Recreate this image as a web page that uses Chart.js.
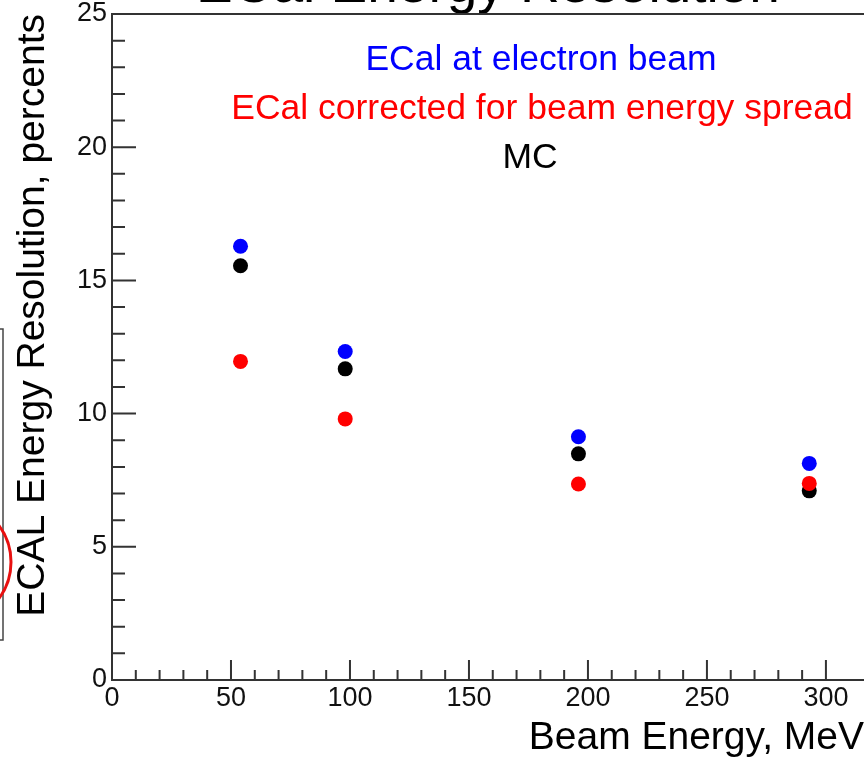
<!DOCTYPE html>
<html>
<head>
<meta charset="utf-8">
<title>ECal Energy Resolution</title>
<script src="https://cdn.jsdelivr.net/npm/chart.js@4.4.1/dist/chart.umd.min.js"></script>
<style>
  html, body { margin: 0; padding: 0; background: #fff; overflow: hidden; width: 864px; height: 762px; }
  #wrap { position: absolute; left: 0; top: -44px; width: 880px; height: 806px; }
</style>
</head>
<body>
<div id="wrap"><canvas id="resChart"></canvas></div>
<script>
// beam energies (MeV) and resolution values (percents)
const beamEnergy = [54, 98, 196, 293];
const electronBeam = [16.28, 12.33, 9.13, 8.13];
const correctedSpread = [11.96, 9.80, 7.36, 7.38];
const monteCarlo = [15.55, 11.68, 8.49, 7.10];

const seriesNames = ['ECal at electron beam', 'ECal corrected for beam energy spread', 'MC'];
const seriesColors = ['#0000ff', '#ff0000', '#000000'];

const xTickLabels = [0, 50, 100, 150, 200, 250, 300];
const yTickLabels = [0, 5, 10, 15, 20, 25];

Chart.defaults.font.family = '"Liberation Sans", Arial, Helvetica, sans-serif';

const toPoints = ys => ys.map((y, i) => ({ x: beamEnergy[i], y: y }));
const seriesValues = [electronBeam, correctedSpread, monteCarlo];

// ROOT style frame: inward ticks and the top frame line
const rootFrame = {
  id: 'rootFrame',
  beforeDatasetsDraw(chart) {
    const { ctx, chartArea: a, scales: { x, y } } = chart;
    ctx.save();
    ctx.strokeStyle = '#333';
    ctx.lineWidth = 2;
    ctx.beginPath();
    ctx.moveTo(a.left - 1, a.top);
    ctx.lineTo(chart.width, a.top);
    x.ticks.forEach(t => {
      if (t.value % 10) return;
      const px = x.getPixelForValue(t.value);
      const len = t.value % 50 ? 10 : 20;
      ctx.moveTo(px, a.bottom);
      ctx.lineTo(px, a.bottom - len);
    });
    y.ticks.forEach(t => {
      const py = y.getPixelForValue(t.value);
      const len = t.value % 5 ? 13 : 24;
      ctx.moveTo(a.left, py);
      ctx.lineTo(a.left + len, py);
    });
    ctx.stroke();
    ctx.restore();
  }
};

// text-only legend like the TLegend in the picture
const textLegend = {
  id: 'textLegend',
  afterDatasetsDraw(chart, args, opts) {
    const { ctx, chartArea: a } = chart;
    ctx.save();
    ctx.font = opts.size + 'px ' + Chart.defaults.font.family;
    ctx.textAlign = 'center';
    ctx.textBaseline = 'alphabetic';
    chart.data.datasets.forEach((ds, i) => {
      ctx.fillStyle = ds.borderColor;
      ctx.fillText(ds.label, opts.centers[i], a.top + opts.baselines[i]);
    });
    ctx.restore();
  }
};

// bits of the slide that show at the left edge (text box border and red circle)
const slideMarks = {
  id: 'slideMarks',
  afterDraw(chart) {
    const ctx = chart.ctx;
    ctx.save();
    ctx.strokeStyle = '#444';
    ctx.lineWidth = 1.5;
    ctx.strokeRect(-10, 373, 13, 311);
    ctx.strokeStyle = '#e81010';
    ctx.lineWidth = 3;
    ctx.beginPath();
    ctx.arc(-50, 606, 61, 0, Math.PI * 2);
    ctx.stroke();
    ctx.restore();
  }
};

const chart = new Chart(document.getElementById('resChart'), {
  type: 'scatter',
  data: {
    datasets: seriesNames.map((name, i) => ({
      label: name,
      data: toPoints(seriesValues[i]),
      backgroundColor: seriesColors[i],
      borderColor: seriesColors[i],
      pointRadius: 7.5,
      pointBorderWidth: 0,
      pointHoverRadius: 7.5,
      showLine: false
    }))
  },
  options: {
    responsive: true,
    maintainAspectRatio: false,
    animation: false,
    layout: { padding: { left: 0, right: 16, top: 0, bottom: 0 } },
    plugins: {
      legend: { display: false },
      tooltip: { enabled: false },
      title: {
        display: true,
        text: 'ECal Energy Resolution',
        fullSize: false,
        color: '#000',
        font: { size: 55, weight: 'normal', lineHeight: 0.7 },
        padding: { top: 12, bottom: 7.5 }
      },
      textLegend: { size: 35.5, centers: [541, 542, 530], baselines: [56, 105, 154] }
    },
    scales: {
      x: {
        type: 'linear',
        position: 'bottom',
        min: 0,
        max: 316,
        grid: { drawOnChartArea: false, drawTicks: false },
        border: { display: true, color: '#333', width: 2 },
        ticks: {
          stepSize: 10,
          autoSkip: false,
          maxRotation: 0,
          padding: 2,
          color: '#111',
          font: { size: 27 },
          callback: v => xTickLabels.includes(v) ? String(v) : ''
        },
        title: {
          display: true,
          text: 'Beam Energy, MeV',
          align: 'end',
          color: '#000',
          font: { size: 39, lineHeight: 1 },
          padding: { top: 0, bottom: 4 }
        },
        afterFit: s => { s.height = 82; }
      },
      y: {
        type: 'linear',
        min: 0,
        max: 25,
        grid: { drawOnChartArea: false, drawTicks: false },
        border: { display: true, color: '#333', width: 2 },
        ticks: {
          stepSize: 1,
          autoSkip: false,
          padding: 5,
          color: '#111',
          font: { size: 27 },
          callback: v => yTickLabels.includes(v) ? String(v) : ''
        },
        title: {
          display: true,
          text: 'ECAL Energy Resolution, percents',
          align: 'end',
          color: '#000',
          font: { size: 39, lineHeight: 1 },
          padding: { top: 14, bottom: 0 }
        },
        afterFit: s => { s.width = 112; }
      }
    }
  },
  plugins: [rootFrame, textLegend, slideMarks]
});
</script>
</body>
</html>
